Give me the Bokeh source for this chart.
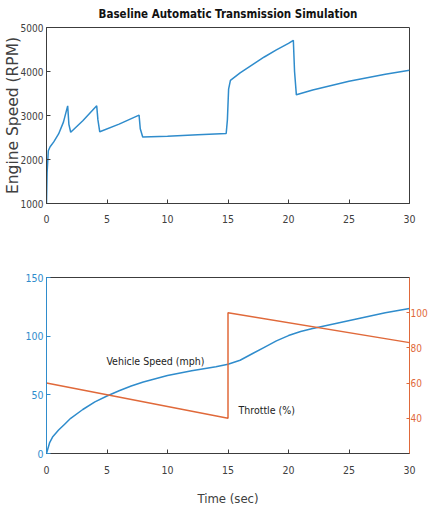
from bokeh.plotting import figure
from bokeh.models import LinearAxis, Range1d, FixedTicker, Label
from bokeh.layouts import column
from bokeh.embed import file_html
from bokeh.resources import INLINE

# ---- data ----
engine_t = [0, 0.05, 0.15, 0.3, 0.6, 1.0, 1.4, 1.75, 1.85, 2.0, 3.0, 4.15, 4.25, 4.4,
            6.0, 7.65, 7.75, 7.95, 10, 12.5, 14.85, 14.95, 15.05, 15.2, 16, 17, 18, 19,
            20, 20.4, 20.5, 20.65, 22, 25, 28, 30]
engine_rpm = [1000, 1700, 2200, 2290, 2400, 2580, 2850, 3220, 2800, 2620, 2880, 3220, 2900, 2630,
              2805, 3010, 2700, 2510, 2530, 2560, 2590, 2900, 3600, 3800, 3970, 4150, 4330, 4490,
              4640, 4710, 4000, 3470, 3580, 3780, 3940, 4030]

speed_t = [0, 0.25, 0.5, 1, 1.5, 2, 3, 4, 5, 6, 7, 8, 10, 12, 14, 15, 16, 17, 18, 19, 20, 21,
           22, 24, 26, 28, 30]
speed_mph = [0, 9, 14, 20, 25, 30, 37.5, 44, 49, 53.5, 57.5, 61, 66.5, 70.5, 74, 76, 79.5, 85,
             90.5, 96, 100.5, 104, 106.5, 111, 115.5, 120, 123.5]

throttle_t = [0, 15, 15, 30]
throttle_pct = [60, 40, 100, 83]

x_ticks = [0, 5, 10, 15, 20, 25, 30]
rpm_ticks = [1000, 2000, 3000, 4000, 5000]
speed_ticks = [0, 50, 100, 150]
throttle_ticks = [40, 60, 80, 100]

TITLE = "Baseline Automatic Transmission Simulation"
RPM_LABEL = "Engine Speed (RPM)"
TIME_LABEL = "Time (sec)"
SPEED_NOTE = "Vehicle Speed (mph)"
THROTTLE_NOTE = "Throttle (%)"

# ---- styles ----
NARROW = "'DejaVu Sans Condensed', 'Liberation Sans', sans-serif"
GRAY = "#3c3c3c"
TICKGRAY = "#404040"
BLUE = "#2f8ccc"
ORANGE = "#e0693a"


def style_axis(ax, color, label_color, ticks):
    ax.axis_line_color = color
    ax.major_tick_line_color = color
    ax.minor_tick_line_color = None
    ax.major_tick_in = 4
    ax.major_tick_out = 0
    ax.major_label_text_font = NARROW
    ax.major_label_text_color = label_color
    ax.major_label_text_font_size = "10.5px"
    ax.ticker = FixedTicker(ticks=ticks)


# ---- top figure ----
p1 = figure(width=430, height=240, x_range=Range1d(0, 30), y_range=Range1d(1000, 5000),
            output_backend="svg", toolbar_location=None,
            min_border_left=42, min_border_right=17, min_border_top=27, min_border_bottom=37)
p1.title.text = TITLE
p1.title.align = "center"
p1.title.vertical_align = "top"
p1.title.text_font = NARROW
p1.title.text_font_size = "11.5px"
p1.title.text_font_style = "bold"
p1.title.text_color = "#111111"
p1.title.standoff = 10
p1.grid.visible = False
p1.outline_line_color = GRAY
p1.line(engine_t, engine_rpm, line_color=BLUE, line_width=1.5)

style_axis(p1.xaxis[0], GRAY, TICKGRAY, x_ticks)
p1.xaxis[0].major_label_standoff = 11
style_axis(p1.yaxis[0], GRAY, TICKGRAY, rpm_ticks)
p1.yaxis[0].major_label_text_font_size = "10px"
p1.yaxis[0].major_label_standoff = 3
p1.yaxis[0].axis_label = RPM_LABEL
p1.yaxis[0].axis_label_text_font = "DejaVu Sans"
p1.yaxis[0].axis_label_text_font_size = "15.5px"
p1.yaxis[0].axis_label_text_font_style = "normal"
p1.yaxis[0].axis_label_text_color = TICKGRAY
p1.yaxis[0].axis_label_standoff = -4

# ---- bottom figure ----
p2 = figure(width=430, height=268, x_range=Range1d(0, 30), y_range=Range1d(0, 150),
            output_backend="svg", toolbar_location=None,
            min_border_left=42, min_border_right=17, min_border_top=37, min_border_bottom=55)
p2.extra_y_ranges = {"throttle": Range1d(20, 120)}
p2.grid.visible = False
p2.outline_line_color = GRAY

p2.line(speed_t, speed_mph, line_color=BLUE, line_width=1.5)
p2.line(throttle_t, throttle_pct, line_color=ORANGE, line_width=1.5, y_range_name="throttle")

style_axis(p2.xaxis[0], GRAY, TICKGRAY, x_ticks)
p2.xaxis[0].major_label_standoff = 12
p2.xaxis[0].axis_label = TIME_LABEL
p2.xaxis[0].axis_label_text_font = NARROW
p2.xaxis[0].axis_label_text_font_size = "13px"
p2.xaxis[0].axis_label_text_font_style = "normal"
p2.xaxis[0].axis_label_text_color = TICKGRAY
p2.xaxis[0].axis_label_standoff = 14

style_axis(p2.yaxis[0], BLUE, BLUE, speed_ticks)
p2.yaxis[0].major_label_standoff = 3

ax_thr = LinearAxis(y_range_name="throttle")
style_axis(ax_thr, ORANGE, ORANGE, throttle_ticks)
ax_thr.major_label_text_font_size = "10px"
ax_thr.major_tick_in = 3
ax_thr.major_label_standoff = 1
p2.add_layout(ax_thr, "right")

p2.add_layout(Label(x=9.0, y=79, text=SPEED_NOTE, text_align="center", text_baseline="middle",
                    text_font=NARROW, text_font_size="10.5px", text_color="#222222"))
p2.add_layout(Label(x=18.2, y=37, text=THROTTLE_NOTE, text_align="center", text_baseline="middle",
                    text_font=NARROW, text_font_size="10.5px", text_color="#222222"))

layout = column(p1, p2, spacing=0)
open("out.html", "w").write(file_html(layout, INLINE))
